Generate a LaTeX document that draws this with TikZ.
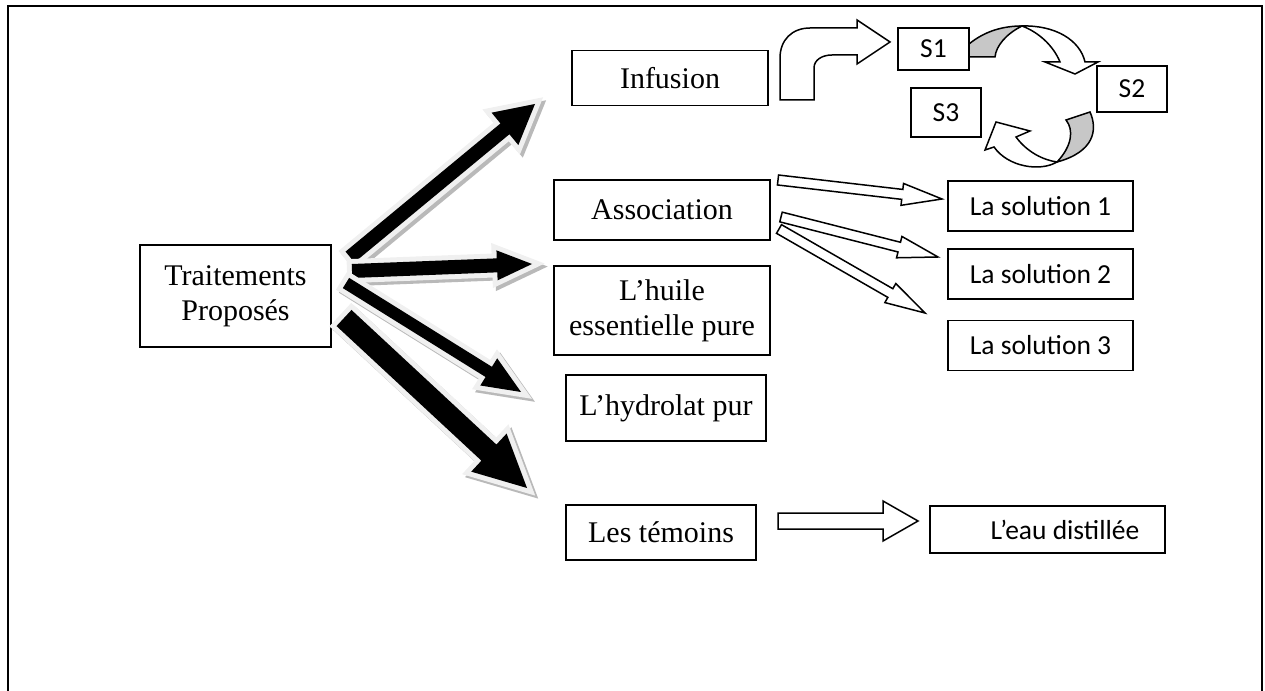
\documentclass[tikz,border=0pt]{standalone}
\usepackage{fontspec}
\setmainfont{Liberation Serif}
\newfontfamily\calibri{Carlito}
\usepackage{tikz}
\usetikzlibrary{calc}
\tikzset{
  box/.style={draw,line width=0.6pt,align=center,inner sep=0pt,font=\fontsize{12}{14}\selectfont},
  sbox/.style={draw,line width=0.6pt,inner sep=0pt,font=\calibri\fontsize{11}{13}\selectfont},
  hol/.style={draw,fill=white,line width=0.6pt},
  back/.style={draw,fill=black!22,line width=0.6pt},
  blk/.style={fill=black,
    preaction={draw=gray!55,line width=4pt,transform canvas={shift={(1.2pt,-1.2pt)}}},
    preaction={draw=black!6,line width=4pt}},
}
% #1 style, #2 tail, #3 tip, #4 half width, #5 head half width, #6 head length
\newcommand\fatarrow[6][]{%
  \coordinate (fa-b) at ($(#3)!#6!(#2)$);
  \path[#1] ($(#2)!#4!90:(#3)$) -- ($(fa-b)!#4!-90:(#2)$) -- ($(fa-b)!#5!-90:(#2)$)
    -- (#3) -- ($(fa-b)!#5!90:(#2)$) -- ($(fa-b)!#4!90:(#2)$) -- ($(#2)!#4!-90:(#3)$) -- cycle;}

\begin{document}
\begin{tikzpicture}[x=0.4pt,y=-0.4pt]
\useasboundingbox (0,0) rectangle (1265,691);
\draw[line width=0.8pt] (8,691) -- (8,6) -- (1262,6) -- (1262,691);
% boxes
\node[box,minimum width=76.4pt,minimum height=40.8pt] (trait) at (235.5,296) {Traitements\\Proposés};
\node[box,minimum width=78.4pt,minimum height=22pt] (inf) at (670,78) {Infusion};
\node[box,minimum width=86.4pt,minimum height=24pt] (assoc) at (662,210) {Association};
\node[box,minimum width=86.4pt,minimum height=35.6pt] (huile) at (662,310.5) {L’huile\\essentielle pure};
\node[box,minimum width=80pt,minimum height=26.4pt] (hydro) at (666,408) {L’hydrolat pur};
\node[box,minimum width=76pt,minimum height=22pt] (temoins) at (661,532.5) {Les témoins};
\node[sbox,minimum width=94pt,minimum height=18.8pt] (eau) at (1047.5,529.5) {\hspace*{14pt}L’eau distillée};
\foreach \i/\y in {1/206,2/274,3/345.5} \node[sbox,minimum width=74pt,minimum height=20pt] (sol\i) at (1040.5,\y) {La solution \i};
\node[sbox,minimum width=28.4pt,minimum height=16.8pt] (s1) at (933.5,49) {S1};
\node[sbox,minimum width=28pt,minimum height=18.4pt] (s2) at (1132,89) {S2};
\node[sbox,minimum width=28pt,minimum height=19.6pt] (s3) at (946,112.5) {S3};
% black arrows
\coordinate (tA) at (350,257); \coordinate (hA) at (535,104);
\coordinate (tB) at (352,271); \coordinate (hB) at (532,264);
\coordinate (tC) at (346,283); \coordinate (hC) at (521,392);
\coordinate (tD) at (344,318); \coordinate (hD) at (527,488);
\foreach \t/\h/\w/\hw/\hl in {A/A/2.8pt/8.4pt/15.6pt,B/B/2.8pt/6pt/14pt,C/C/2.4pt/6.4pt/15.2pt,D/D/4.4pt/10.4pt/20.8pt}
  \fatarrow[blk]{t\t}{h\h}{\w}{\hw}{\hl}
% hollow arrows
\coordinate (a1) at (778,180); \coordinate (b1) at (942,199);
\coordinate (a2) at (781,217); \coordinate (b2) at (938,257);
\coordinate (a3) at (779,229); \coordinate (b3) at (925,313);
\foreach \i in {1,2,3} \fatarrow[hol]{a\i}{b\i}{2pt}{4.4pt}{16pt}
\coordinate (a4) at (778,521); \coordinate (b4) at (918,521);
\fatarrow[hol]{a4}{b4}{3.2pt}{8pt}{14pt}
% infusion to S1
\draw[hol] (780,100) -- (780,58) .. controls (780,40) and (792,28) .. (810,28) -- (857,28) -- (857,20) -- (890,42)
  -- (857,64) -- (857,55) -- (832,55) .. controls (822,55) and (814,60) .. (814,68) -- (814,100) -- cycle;
% S1 to S2
\draw[back] (969,44) .. controls (985,31) and (1003,26) .. (1022,26) .. controls (1006,34) and (996,46) .. (995,57) -- (969,57) -- cycle;
\draw[hol] (1022,26) .. controls (1055,25) and (1080,40) .. (1085,62) -- (1098,62) -- (1075,74) -- (1045,62) -- (1060,62)
  .. controls (1053,45) and (1038,32) .. (1022,26) -- cycle;
% S2 to S3
\draw[back] (1066,120) -- (1090,112) .. controls (1098,130) and (1094,152) .. (1057,162) .. controls (1072,146) and (1074,130) .. (1066,120) -- cycle;
\draw[hol] (1057,162) .. controls (1040,172) and (1008,167) .. (994,147) -- (985,150) -- (996,122) -- (1030,131) -- (1016,137)
  .. controls (1027,152) and (1043,160) .. (1057,162) -- cycle;
\end{tikzpicture}
\end{document}
